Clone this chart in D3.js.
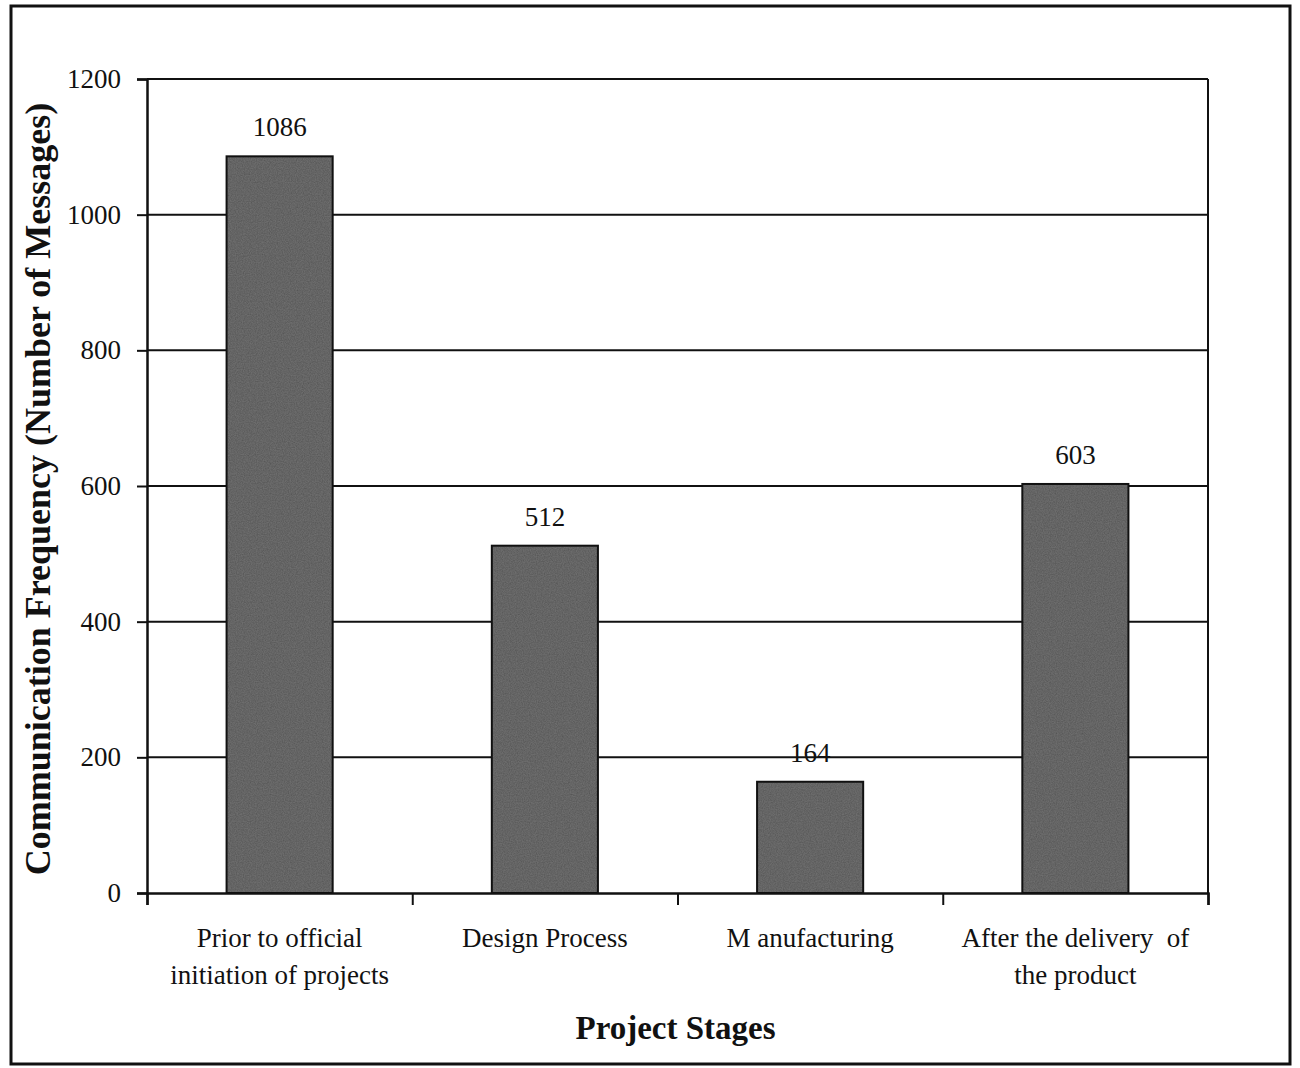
<!DOCTYPE html>
<html>
<head>
<meta charset="utf-8">
<script src="https://cdn.jsdelivr.net/npm/d3@7"></script>
<style>
  html, body { margin: 0; padding: 0; background: #fff; }
  svg { display: block; }
  text { font-family: "Liberation Serif", "Times New Roman", serif; fill: #111; }
</style>
</head>
<body>
<svg id="chart" width="1300" height="1068"></svg>
<script>
// Communication frequency by project stage
const stages = [
  ["Prior to official", "initiation of projects"],
  ["Design Process"],
  ["M anufacturing"],
  ["After the delivery\u00a0 of", "the product"]
];
const messages = [1086, 512, 164, 603];
const yTicks = [0, 200, 400, 600, 800, 1000, 1200];

const svg = d3.select("#chart");
const W = 1300, H = 1068;
const margin = { left: 147, right: 92, top: 79, bottom: 175 };
const plotW = W - margin.left - margin.right;
const plotH = H - margin.top - margin.bottom;

// fine grain for the bar fill
const defs = svg.append("defs");
const grain = defs.append("filter").attr("id", "grain")
  .attr("x", 0).attr("y", 0).attr("width", 1).attr("height", 1);
grain.append("feTurbulence").attr("type", "fractalNoise")
  .attr("baseFrequency", 0.85).attr("numOctaves", 2).attr("seed", 3).attr("result", "noise");
grain.append("feColorMatrix").attr("in", "noise").attr("type", "matrix")
  .attr("values", "0 0 0 0 0  0 0 0 0 0  0 0 0 0 0  0 0 0 0.55 -0.1")
  .attr("result", "dots");
grain.append("feComposite").attr("in", "dots").attr("in2", "SourceGraphic").attr("operator", "atop");

// outer frame
svg.append("rect")
  .attr("x", 11).attr("y", 6).attr("width", 1279).attr("height", 1058)
  .attr("fill", "none").attr("stroke", "#111").attr("stroke-width", 3);

const g = svg.append("g").attr("transform", `translate(${margin.left},${margin.top})`);

const x = d3.scaleBand().domain(d3.range(stages.length)).range([0, plotW]).paddingInner(0.6).paddingOuter(0.3);
const y = d3.scaleLinear().domain([0, 1200]).range([plotH, 0]);

// horizontal gridlines
g.append("g").selectAll("line").data(yTicks.filter(d => d > 0)).join("line")
  .attr("x1", 0).attr("x2", plotW)
  .attr("y1", d => y(d)).attr("y2", d => y(d))
  .attr("stroke", "#111").attr("stroke-width", 2);

// right edge of the plot area
g.append("line").attr("x1", plotW).attr("x2", plotW).attr("y1", 0).attr("y2", plotH)
  .attr("stroke", "#111").attr("stroke-width", 2);

// bars
g.append("g").selectAll("rect").data(messages).join("rect")
  .attr("x", (d, i) => x(i))
  .attr("y", d => y(d))
  .attr("width", x.bandwidth())
  .attr("height", d => plotH - y(d))
  .attr("fill", "#6e6e6e")
  .attr("filter", "url(#grain)");
g.append("g").selectAll("rect").data(messages).join("rect")
  .attr("x", (d, i) => x(i))
  .attr("y", d => y(d))
  .attr("width", x.bandwidth())
  .attr("height", d => plotH - y(d))
  .attr("fill", "none").attr("stroke", "#111").attr("stroke-width", 2);

// value labels
g.append("g").selectAll("text").data(messages).join("text")
  .attr("x", (d, i) => x(i) + x.bandwidth() / 2)
  .attr("y", d => y(d) - 20)
  .attr("text-anchor", "middle")
  .attr("font-size", 27)
  .text(d => d);

// y axis
const yAxis = g.append("g")
  .call(d3.axisLeft(y).tickValues(yTicks).tickFormat(d3.format("d")).tickSize(10).tickPadding(16));
yAxis.select(".domain").attr("stroke", "#111").attr("stroke-width", 2.5);
yAxis.selectAll(".tick line").attr("stroke", "#111").attr("stroke-width", 2);
yAxis.selectAll(".tick text").attr("font-size", 27).attr("font-family", "Liberation Serif").attr("fill", "#111");

// x axis with ticks at category boundaries
const xAxisScale = d3.scaleLinear().domain([0, stages.length]).range([0, plotW]);
const xAxis = g.append("g").attr("transform", `translate(0,${plotH})`)
  .call(d3.axisBottom(xAxisScale).tickValues(d3.range(stages.length + 1)).tickSize(12).tickFormat(""));
xAxis.select(".domain").attr("stroke", "#111").attr("stroke-width", 2.5);
xAxis.selectAll(".tick line").attr("stroke", "#111").attr("stroke-width", 2);

// category labels
const cat = g.append("g").selectAll("text").data(stages).join("text")
  .attr("x", (d, i) => x(i) + x.bandwidth() / 2)
  .attr("y", plotH + 54)
  .attr("text-anchor", "middle")
  .attr("font-size", 27);
cat.selectAll("tspan").data(d => d).join("tspan")
  .attr("x", function () { return this.parentNode.getAttribute("x"); })
  .attr("dy", (d, j) => j === 0 ? 0 : 37)
  .text(d => d);

// axis titles
svg.append("text")
  .attr("x", margin.left + plotW / 2 - 2).attr("y", 1039)
  .attr("text-anchor", "middle").attr("font-size", 33).attr("font-weight", "bold")
  .text("Project Stages");

svg.append("text")
  .attr("transform", "translate(50,489) rotate(-90)")
  .attr("text-anchor", "middle").attr("font-size", 36).attr("font-weight", "bold")
  .text("Communication Frequency (Number of Messages)");
</script>
</body>
</html>
